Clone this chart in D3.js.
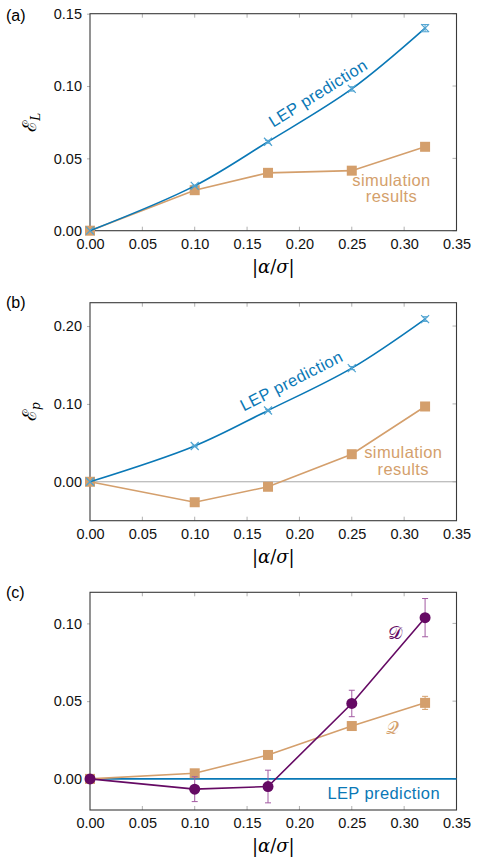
<!DOCTYPE html>
<html>
<head>
<meta charset="utf-8">
<script src="https://cdn.jsdelivr.net/npm/d3@7"></script>
<style>
  body { margin: 0; background: #fff; }
  svg { display: block; font-family: 'Liberation Sans', Arial, sans-serif; }
  .tick text { font-size: 14.5px; fill: #111; }
</style>
</head>
<body>
<div id="chart"></div>
<script>
// DATA
let alpha = [0, 0.10, 0.17, 0.25, 0.32]
let xTicks = [0, 0.05, 0.10, 0.15, 0.20, 0.25, 0.30, 0.35]

// (a) angular momentum
let lepL = [0, 0.031, 0.0615, 0.098, 0.140]
let lepLErr = [0, 0.0005, 0.001, 0.0015, 0.0025]
let simL = [0, 0.028, 0.040, 0.0415, 0.058]
let simLErr = [0, 0.001, 0.001, 0.001, 0.002]

// (b) momentum
let lepP = [0, 0.046, 0.0916, 0.146, 0.209]
let lepPErr = [0, 0.001, 0.0015, 0.002, 0.003]
let simP = [0, -0.0263, -0.0064, 0.0354, 0.0967]
let simPErr = [0, 0.001, 0.001, 0.001, 0.003]

// (c) D and Q, LEP prediction is zero everywhere
let dissD = [0, -0.0066, -0.0049, 0.0485, 0.1037]
let dissDErr = [0, 0.008, 0.0105, 0.0085, 0.0123]
let quadQ = [0, 0.0036, 0.0154, 0.034, 0.0489]
let quadQErr = [0, 0.0005, 0.001, 0.0015, 0.0042]
let lepC = 0

let yTicksA = [0, 0.05, 0.10, 0.15]
let yTicksB = [0, 0.10, 0.20]
let yTicksC = [0, 0.05, 0.10]

// COLORS
let blue = '#0a78b6', blueLight = '#4fa3d1'
let tan = '#d49f6c'
let purple = '#650a64', purpleLight = '#a35aa2'

// CHART SETUP
let width = 503, height = 859
let svg = d3.select('#chart').append('svg')
  .attr('width', width).attr('height', height)

let x = d3.scaleLinear().domain([0, 0.35]).range([90, 456.5])
let fmt = d3.format('.2f')

function panel (cfg) {
  let y = d3.scaleLinear().domain(cfg.domain).range([cfg.bottom, cfg.top])
  let g = svg.append('g')

  // inner ticks top / bottom / right
  g.append('g').attr('transform', 'translate(0,' + cfg.bottom + ')')
    .call(d3.axisBottom(x).tickValues(xTicks).tickSize(0).tickPadding(8).tickFormat(fmt))
    .call(a => a.select('.domain').remove())
  g.selectAll('.xt').data(xTicks.slice(1, -1)).enter().append('line')
    .attr('x1', d => x(d)).attr('x2', d => x(d))
    .attr('y1', cfg.bottom).attr('y2', cfg.bottom - 4)
    .attr('stroke', '#b0b0b0')
  g.selectAll('.xtt').data(xTicks.slice(1, -1)).enter().append('line')
    .attr('x1', d => x(d)).attr('x2', d => x(d))
    .attr('y1', cfg.top).attr('y2', cfg.top + 4)
    .attr('stroke', '#b0b0b0')

  g.append('g').attr('transform', 'translate(' + x.range()[0] + ',0)')
    .call(d3.axisLeft(y).tickValues(cfg.yTicks).tickSize(3).tickPadding(5).tickFormat(fmt))
    .call(a => a.select('.domain').remove())
    .call(a => a.selectAll('.tick line').attr('stroke', '#b0b0b0'))
  g.selectAll('.yt').data(cfg.yTicks).enter().append('line')
    .attr('x1', x.range()[1]).attr('x2', x.range()[1] - 4)
    .attr('y1', d => y(d)).attr('y2', d => y(d))
    .attr('stroke', '#b0b0b0')

  if (cfg.zeroColor) {
    g.append('line')
      .attr('x1', x.range()[0]).attr('x2', x.range()[1])
      .attr('y1', y(0)).attr('y2', y(0))
      .attr('stroke', cfg.zeroColor).attr('stroke-width', cfg.zeroWidth || 1)
  }

  // frame
  g.append('rect')
    .attr('x', x.range()[0]).attr('y', cfg.top)
    .attr('width', x.range()[1] - x.range()[0]).attr('height', cfg.bottom - cfg.top)
    .attr('fill', 'none').attr('stroke', '#3a3a3a').attr('stroke-width', 1.1)

  // x label
  let xl = g.append('text')
    .attr('x', (x.range()[0] + x.range()[1]) / 2).attr('y', cfg.bottom + 42)
    .attr('text-anchor', 'middle')
    .style('font-family', "'DejaVu Serif', serif").style('font-size', '18px')
  xl.append('tspan').text('|')
  xl.append('tspan').style('font-style', 'italic').text('α')
  xl.append('tspan').text('/')
  xl.append('tspan').style('font-style', 'italic').text('σ')
  xl.append('tspan').text('|')

  // panel tag
  g.append('text').attr('x', 6).attr('y', cfg.tagY)
    .style('font-size', '16px').text(cfg.tag)

  // y label
  if (cfg.yLabel) {
    let cy = (cfg.top + cfg.bottom) / 2
    let t = g.append('text')
      .attr('transform', 'translate(36,' + cy + ') rotate(-90)')
      .attr('text-anchor', 'middle')
      .style('font-family', "'DejaVu Serif', serif").style('font-size', '19px')
    t.append('tspan').text('ℰ')
    t.append('tspan').attr('dy', 4).style('font-size', '12px').style('font-style', 'italic').text(cfg.yLabel)
  }
  return y
}

function series (y, vals, errs, opt) {
  let pts = alpha.map((a, i) => ({ a: a, v: vals[i], e: errs ? errs[i] : 0 }))
  let line = d3.line().x(d => x(d.a)).y(d => y(d.v))
  if (opt.smooth) line.curve(d3.curveCatmullRom.alpha(0.5))
  svg.append('path').datum(pts)
    .attr('d', line).attr('fill', 'none')
    .attr('stroke', opt.color).attr('stroke-width', 1.6)

  // error bars
  let eb = svg.append('g').attr('stroke', opt.errColor || opt.color).attr('stroke-width', 1)
  pts.filter(d => d.e > 0).forEach(function (d) {
    let cx = x(d.a)
    eb.append('line').attr('x1', cx).attr('x2', cx).attr('y1', y(d.v - d.e)).attr('y2', y(d.v + d.e))
    eb.append('line').attr('x1', cx - 3).attr('x2', cx + 3).attr('y1', y(d.v - d.e)).attr('y2', y(d.v - d.e))
    eb.append('line').attr('x1', cx - 3).attr('x2', cx + 3).attr('y1', y(d.v + d.e)).attr('y2', y(d.v + d.e))
  })

  let mk = svg.append('g')
  pts.forEach(function (d) {
    let cx = x(d.a), cy = y(d.v)
    if (opt.marker === 'square') {
      mk.append('rect').attr('x', cx - 5).attr('y', cy - 5).attr('width', 10).attr('height', 10)
        .attr('fill', opt.color)
    } else if (opt.marker === 'circle') {
      mk.append('circle').attr('cx', cx).attr('cy', cy).attr('r', 5.5).attr('fill', opt.color)
    } else if (opt.marker === 'cross') {
      mk.append('path')
        .attr('d', 'M' + (cx - 4) + ',' + (cy - 4) + 'L' + (cx + 4) + ',' + (cy + 4) +
                   'M' + (cx - 4) + ',' + (cy + 4) + 'L' + (cx + 4) + ',' + (cy - 4))
        .attr('stroke', blueLight).attr('stroke-width', 1.2)
    }
  })
}

function label (lines, cx, cy, color, opt) {
  opt = opt || {}
  let t = svg.append('text')
    .attr('text-anchor', opt.anchor || 'middle')
    .attr('transform', 'translate(' + cx + ',' + cy + ') rotate(' + (opt.rot || 0) + ')')
    .attr('fill', color)
    .style('font-size', (opt.size || 16.5) + 'px')
    .style('letter-spacing', (opt.ls == null ? 0.4 : opt.ls) + 'px')
  if (opt.family) t.style('font-family', opt.family)
  lines.forEach(function (s, i) {
    t.append('tspan').attr('x', 0).attr('dy', i === 0 ? 0 : 16.5).text(s)
  })
}

// PANEL (a)
let yA = panel({ top: 13.7, bottom: 230.7, domain: [0, 0.15], yTicks: yTicksA, tag: '(a)', tagY: 21, yLabel: 'L' })
series(yA, simL, simLErr, { color: tan, marker: 'square' })
series(yA, lepL, lepLErr, { color: blue, errColor: blueLight, marker: 'cross', smooth: true })
label(['LEP prediction'], 321, 98, blue, { rot: -32 })
label(['simulation', 'results'], 391.5, 185.5, tan)

// PANEL (b)
let yB = panel({ top: 302.7, bottom: 520.7, domain: [-0.05, 0.23], yTicks: yTicksB, tag: '(b)', tagY: 308, yLabel: 'p', zeroColor: '#a8a8a8' })
series(yB, simP, simPErr, { color: tan, marker: 'square' })
series(yB, lepP, lepPErr, { color: blue, errColor: blueLight, marker: 'cross', smooth: true })
label(['LEP prediction'], 294, 386, blue, { rot: -27 })
label(['simulation', 'results'], 403.3, 458, tan)

// PANEL (c)
let yC = panel({ top: 592.3, bottom: 810, domain: [-0.02, 0.12], yTicks: yTicksC, tag: '(c)', tagY: 598 })
svg.append('line')
  .attr('x1', x.range()[0]).attr('x2', x.range()[1])
  .attr('y1', yC(lepC)).attr('y2', yC(lepC))
  .attr('stroke', blue).attr('stroke-width', 1.6)
series(yC, quadQ, quadQErr, { color: tan, marker: 'square' })
series(yC, dissD, dissDErr, { color: purple, errColor: purpleLight, marker: 'circle' })
label(['LEP prediction'], 440, 799, blue, { anchor: 'end', ls: 0.4 })
label(['𝒟'], 395, 639, purple, { size: 18, ls: 0, family: "'DejaVu Serif', serif" })
label(['𝒬'], 392, 734, tan, { size: 18, ls: 0, family: "'DejaVu Serif', serif" })
</script>
</body>
</html>
